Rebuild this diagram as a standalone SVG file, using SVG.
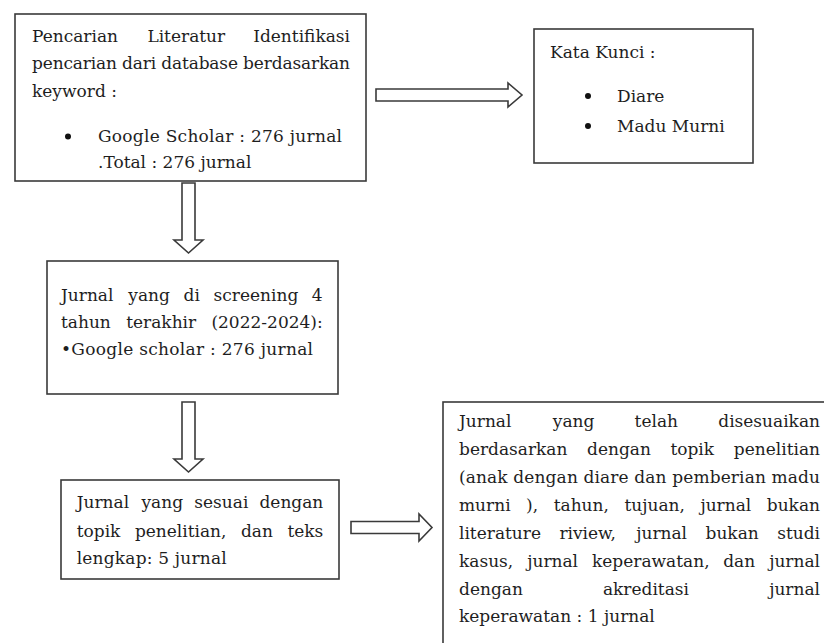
<svg xmlns="http://www.w3.org/2000/svg" width="824" height="643" viewBox="0 0 824 643">
<style>
.box{fill:#fff;stroke:#3a3a3a;stroke-width:1.6}
.arr{fill:#fff;stroke:#3a3a3a;stroke-width:1.6;stroke-linejoin:miter}
.t{font-family:"DejaVu Serif","Liberation Serif",serif;font-size:17px;fill:#1e1e1e}
.e{text-anchor:end}
.dot{fill:#111}
</style>
<rect width="824" height="643" fill="#fff"/>
<g id="connectors">
<path class="arr" d="M376,89 H508 V83 L522,95 L508,107 V101 H376 Z"/>
<path class="arr" d="M182,183 V240 H174 L188.5,253 L203,240 H195 V183 Z"/>
<path class="arr" d="M182,402 V459 H174 L188.5,472 L203,459 H195 V402 Z"/>
<path class="arr" d="M351,521.5 H419 V514 L432,527.5 L419,541 V533.5 H351 Z"/>
</g>
<g id="node-pencarian">
<rect class="box" x="15" y="14" width="351" height="167"/>
<text class="t" y="41.5"><tspan x="32">Pencarian</tspan> <tspan x="147.4">Literatur</tspan> <tspan class="e" x="350">Identifikasi</tspan></text>
<text class="t" x="32" y="69" textLength="318" lengthAdjust="spacing">pencarian dari database berdasarkan</text>
<text class="t" x="32" y="96.5">keyword :</text>
<circle class="dot" cx="68" cy="136.5" r="3"/>
<text class="t" x="98" y="141.5" textLength="244" lengthAdjust="spacing">Google Scholar : 276 jurnal</text>
<text class="t" x="98" y="168">.Total : 276 jurnal</text>
</g>
<g id="node-katakunci">
<rect class="box" x="534" y="29" width="219" height="134"/>
<text class="t" x="550" y="58">Kata Kunci :</text>
<circle class="dot" cx="588" cy="96" r="3"/>
<text class="t" x="617" y="101.5">Diare</text>
<circle class="dot" cx="588" cy="126" r="3"/>
<text class="t" x="617" y="131.5">Madu Murni</text>
</g>
<g id="node-screening">
<rect class="box" x="47" y="261" width="291" height="133"/>
<text class="t" y="300.5"><tspan x="61">Jurnal</tspan> <tspan x="128.3">yang</tspan> <tspan x="183.6">di</tspan> <tspan x="213.6">screening</tspan> <tspan class="e" x="322.7">4</tspan></text>
<text class="t" y="327.5"><tspan x="61">tahun</tspan> <tspan x="126.2">terakhir</tspan> <tspan class="e" x="322.7">(2022-2024):</tspan></text>
<text class="t" x="61" y="355" textLength="252" lengthAdjust="spacing">•Google scholar : 276 jurnal</text>
</g>
<g id="node-sesuai">
<rect class="box" x="61" y="480" width="278" height="99"/>
<text class="t" y="508"><tspan x="76.7">Jurnal</tspan> <tspan x="141.5">yang</tspan> <tspan x="194.3">sesuai</tspan> <tspan class="e" x="323.3">dengan</tspan></text>
<text class="t" y="536.5"><tspan x="76.7">topik</tspan> <tspan x="134.9">penelitian,</tspan> <tspan x="240.9">dan</tspan> <tspan class="e" x="323.3">teks</tspan></text>
<text class="t" x="76.7" y="564" textLength="150" lengthAdjust="spacing">lengkap: 5 jurnal</text>
</g>
<g id="node-final">
<rect class="box" x="443" y="402" width="400" height="260"/>
<text class="t" y="427"><tspan x="459">Jurnal</tspan> <tspan x="552.8">yang</tspan> <tspan x="634.6">telah</tspan> <tspan class="e" x="820">disesuaikan</tspan></text>
<text class="t" y="455"><tspan x="459">berdasarkan</tspan> <tspan x="587">dengan</tspan> <tspan x="670.4">topik</tspan> <tspan class="e" x="820">penelitian</tspan></text>
<text class="t" x="459" y="483" textLength="361" lengthAdjust="spacing">(anak dengan diare dan pemberian madu</text>
<text class="t" y="511"><tspan x="459">murni</tspan> <tspan x="526.1">),</tspan> <tspan x="553.7">tahun,</tspan> <tspan x="624.4">tujuan,</tspan> <tspan x="700.4">jurnal</tspan> <tspan class="e" x="820">bukan</tspan></text>
<text class="t" y="539"><tspan x="459">literature</tspan> <tspan x="559.4">riview,</tspan> <tspan x="636.2">jurnal</tspan> <tspan x="705.5">bukan</tspan> <tspan class="e" x="820">studi</tspan></text>
<text class="t" y="567"><tspan x="459">kasus,</tspan> <tspan x="527.2">jurnal</tspan> <tspan x="592">keperawatan,</tspan> <tspan x="723.2">dan</tspan> <tspan class="e" x="820">jurnal</tspan></text>
<text class="t" y="595"><tspan x="459">dengan</tspan> <tspan x="602.9">akreditasi</tspan> <tspan class="e" x="820">jurnal</tspan></text>
<text class="t" x="459" y="622">keperawatan : 1 jurnal</text>
</g>
</svg>
